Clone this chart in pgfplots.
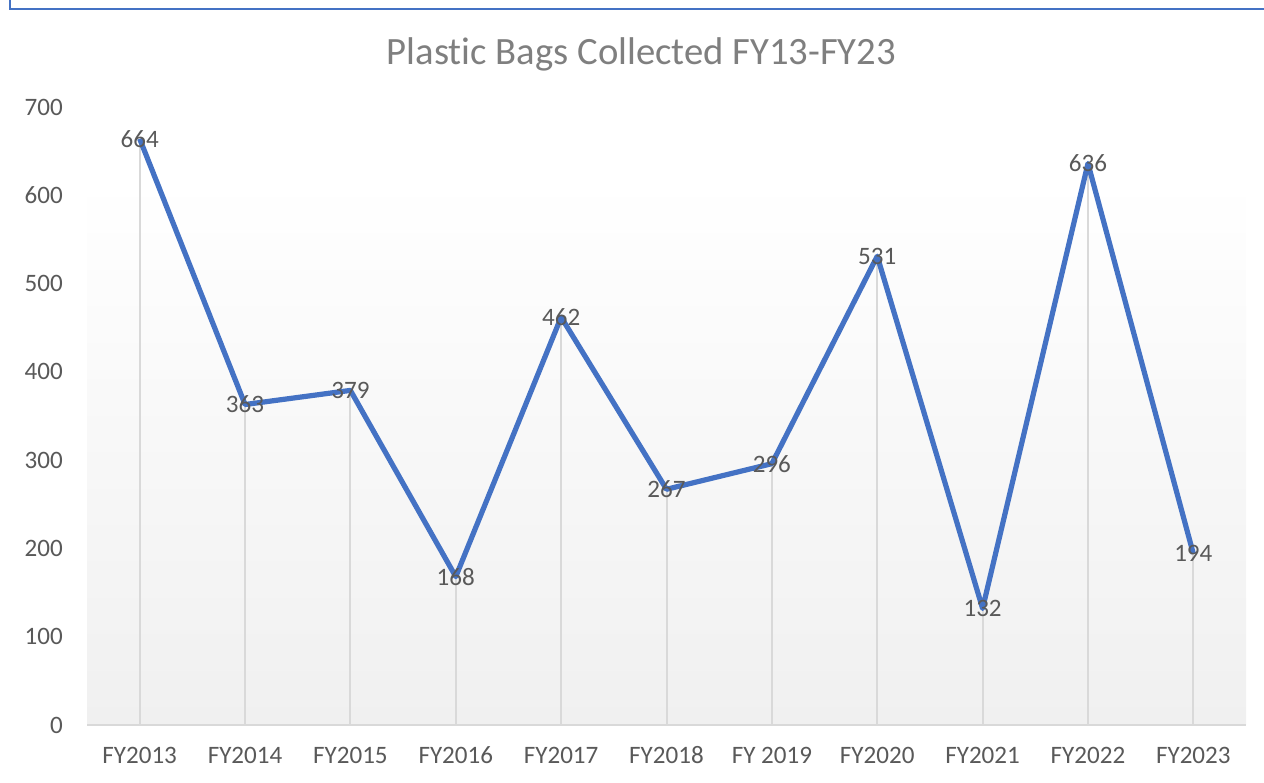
\documentclass[border=0pt]{standalone}
\usepackage{pgfplots}
\pgfplotsset{compat=1.18}
\usepackage{fontspec}
\setmainfont[RawFeature={-liga;-clig;-calt;-dlig}]{Carlito}
\definecolor{linecol}{HTML}{4472C4}
\definecolor{txt}{HTML}{595959}
\definecolor{ttl}{HTML}{7F7F7F}
\definecolor{drop}{HTML}{D9D9D9}
\definecolor{bgbot}{HTML}{F0F0F0}
\begin{document}
\begin{tikzpicture}[x=0.75pt,y=0.75pt]
\path[use as bounding box] (0,0) rectangle (1264,782);
\shade[top color=white, bottom color=bgbot] (87,57) rectangle (1246,604);
\draw[drop, line width=1.5pt] (87,57) -- (1246,57);
\begin{axis}[
  at={(65.25pt,42.75pt)}, anchor=south west,
  scale only axis, width=869.25pt, height=463.5pt,
  xmin=-0.5, xmax=10.5, ymin=0, ymax=700,
  axis line style={draw=none},
  tick style={draw=none},
  xtick={0,...,10},
  xticklabels={FY2013,FY2014,FY2015,FY2016,FY2017,FY2018,FY 2019,FY2020,FY2021,FY2022,FY2023},
  ytick={0,100,...,700},
  /pgf/number format/assume math mode=true,
  ticklabel style={font=\fontsize{18.8}{22}\selectfont, text=txt},
  yticklabel style={anchor=east, inner sep=0pt, xshift=-18pt},
  xticklabel style={anchor=center, inner sep=0pt, yshift=-22.5pt},
  clip=false,
]
\addplot[ycomb, drop, line width=1.5pt, no marks] coordinates {
(0,664) (1,363) (2,379) (3,168) (4,462) (5,267) (6,296) (7,531) (8,132) (9,636) (10,194)};
\addplot[linecol, line width=3.9pt, line join=round, no marks,
  nodes near coords,
  every node near coord/.append style={anchor=center, font=\fontsize{18.8}{22}\selectfont, text=txt, inner sep=0pt}]
  coordinates {
(0,664) (1,363) (2,379) (3,168) (4,462) (5,267) (6,296) (7,531) (8,132) (9,636) (10,194)};
\end{axis}
\node[font=\fontsize{29}{34}\selectfont, text=ttl] at (641.5,728) {Plastic Bags Collected FY13-FY23};
\draw[linecol, line width=1.5pt] (9.5,782) -- (9.5,773) -- (1264,773);
\end{tikzpicture}
\end{document}
